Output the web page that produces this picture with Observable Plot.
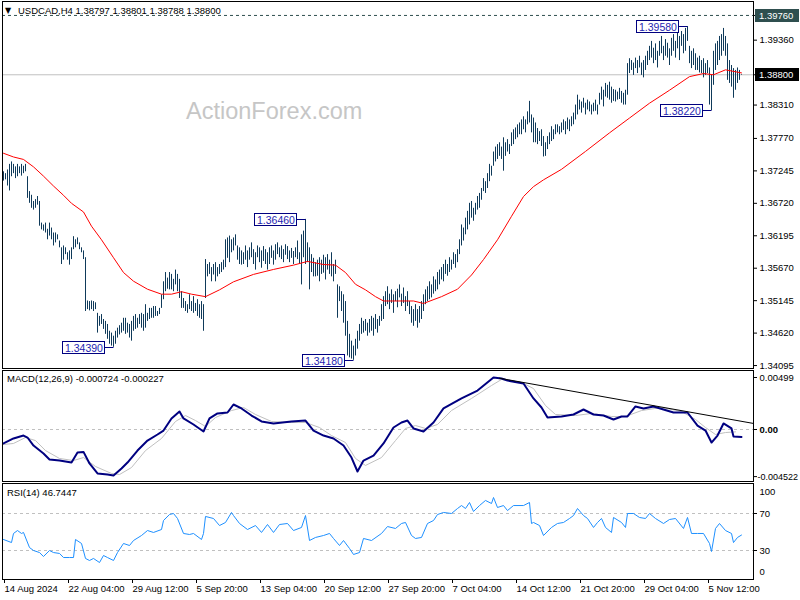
<!DOCTYPE html>
<html><head><meta charset="utf-8">
<script src="https://cdn.jsdelivr.net/npm/d3@7"></script>
<script src="https://cdn.jsdelivr.net/npm/@observablehq/plot@0.6"></script>
<style>
body{margin:0;background:#fff;}
#chart{position:relative;width:800px;height:600px;background:#fff;overflow:hidden;}
#chart > div{position:absolute;left:0;}
</style></head><body><div id="chart"></div>
<script>
// ---------- DATA ----------
const barHigh = [
1.3723,1.3720,1.3726,1.3735,1.3739,1.3735,1.3731,1.3735,1.3731,1.3735,1.3732,1.3735,
1.3715,1.3691,1.3685,1.3675,1.3678,1.3683,1.3675,
1.3640,1.3637,1.3640,1.3630,1.3640,1.3632,1.3624,
1.3624,1.3621,1.3611,1.3600,1.3603,1.3600,1.3592,1.3595,1.3600,
1.3618,1.3613,1.3616,1.3608,1.3600,1.3595,
1.3584,
1.3514,1.3513,1.3514,1.3513,1.3511,
1.3494,1.3489,1.3492,1.3484,1.3481,1.3476,1.3465,
1.3462,1.3457,1.3465,
1.3470,1.3474,1.3478,1.3486,1.3486,1.3478,1.3476,1.3481,1.3489,1.3492,1.3486,1.3492,1.3494,1.3492,1.3508,1.3494,1.3502,1.3502,1.3505,1.3505,1.3497,1.3502,1.3524,
1.3545,1.3560,1.3551,1.3560,1.3557,1.3549,1.3564,1.3557,1.3549,1.3529,1.3518,1.3513,1.3508,1.3524,1.3513,1.3521,1.3510,1.3516,1.3508,1.3513,1.3508,
1.3581,1.3573,1.3576,1.3568,1.3573,1.3576,1.3568,1.3573,1.3576,1.3580,1.3613,1.3616,
1.3619,1.3613,1.3616,1.3621,1.3603,1.3600,1.3595,
1.3592,1.3603,1.3595,1.3600,1.3608,1.3597,1.3592,1.3603,1.3600,1.3595,1.3602,1.3597,1.3592,1.3600,1.3603,1.3595,1.3605,1.3608,
1.3600,1.3603,1.3597,1.3605,1.3602,1.3595,1.3599,1.3594,1.3600,1.3611,1.3592,1.3621,
1.3627,1.3646,1.3608,1.3600,
1.3589,1.3583,1.3576,1.3580,1.3584,1.3580,1.3588,1.3584,1.3589,1.3580,1.3592,1.3573,1.3580,
1.3540,1.3537,1.3529,1.3524,1.3513,1.3481,
1.3460,1.3449,1.3441,1.3452,1.3465,
1.3476,1.3486,1.3481,1.3484,1.3478,1.3484,1.3489,1.3486,1.3492,1.3484,1.3489,1.3508,1.3521,
1.3529,1.3537,1.3525,1.3532,1.3524,1.3529,1.3533,1.3540,1.3525,1.3535,1.3521,1.3529,
1.3513,1.3505,1.3500,1.3508,1.3500,1.3505,1.3513,
1.3524,1.3532,1.3537,1.3545,1.3540,1.3553,1.3548,1.3560,
1.3564,1.3568,1.3573,1.3580,1.3573,1.3584,1.3580,1.3592,1.3589,1.3597,
1.3613,1.3637,1.3632,1.3648,1.3659,1.3672,
1.3675,1.3664,1.3672,1.3683,1.3688,
1.3696,1.3712,1.3707,1.3720,1.3735,
1.3732,1.3755,1.3763,1.3767,1.3770,1.3763,1.3778,1.3770,1.3775,1.3767,
1.3786,1.3791,1.3794,1.3799,1.3802,1.3807,1.3812,1.3807,1.3820,1.3837,
1.3815,1.3810,1.3802,1.3793,1.3788,1.3791,1.3780,1.3770,1.3780,
1.3786,1.3796,1.3791,1.3799,1.3799,1.3796,1.3802,1.3807,1.3804,1.3810,1.3807,1.3812,1.3818,
1.3831,1.3847,1.3839,1.3836,1.3842,1.3834,1.3839,1.3836,1.3831,1.3834,1.3839,1.3831,
1.3850,1.3860,1.3855,1.3866,1.3863,1.3868,1.3860,1.3856,
1.3855,1.3852,1.3858,1.3853,1.3850,1.3855,
1.3898,1.3906,1.3903,1.3899,1.3907,1.3903,1.3910,1.3899,1.3903,1.3910,
1.3918,1.3926,1.3934,1.3923,1.3930,1.3918,1.3934,1.3942,1.3926,1.3937,1.3931,1.3922,1.3939,
1.3945,1.3934,1.3947,1.3942,1.3950,1.3945,1.3955,1.3958,
1.3926,1.3918,1.3922,1.3914,1.3907,1.3910,1.3903,1.3906,1.3898,1.3903,1.3891,1.3879,
1.3918,1.3930,1.3934,1.3942,1.3945,1.3955,1.3942,
1.3930,1.3903,1.3895,1.3890,1.3887,1.3891,1.3887,1.3880];
const barLow = [
1.3708,1.3710,1.3700,1.3692,1.3715,1.3720,1.3712,1.3715,1.3720,1.3716,1.3720,1.3723,
1.3680,1.3672,1.3664,1.3661,1.3664,1.3669,1.3635,
1.3629,1.3627,1.3624,1.3613,1.3619,1.3613,1.3603,
1.3608,1.3613,1.3600,1.3573,1.3580,1.3589,1.3580,1.3572,1.3581,
1.3597,1.3600,1.3605,1.3597,1.3592,1.3581,
1.3497,
1.3500,1.3498,1.3500,1.3497,1.3500,
1.3462,1.3473,1.3476,1.3468,1.3460,1.3452,1.3444,
1.3441,1.3439,1.3444,
1.3454,1.3459,1.3462,1.3465,1.3460,1.3462,1.3454,1.3449,1.3465,1.3468,1.3470,1.3476,1.3470,1.3465,1.3470,1.3481,1.3484,1.3486,1.3486,1.3489,1.3489,1.3492,1.3502,
1.3516,1.3529,1.3533,1.3532,1.3532,1.3529,1.3540,1.3529,1.3518,1.3502,1.3502,1.3497,1.3494,1.3500,1.3497,1.3494,1.3497,1.3489,1.3486,1.3484,1.3465,
1.3518,1.3553,1.3557,1.3545,1.3556,1.3545,1.3553,1.3557,1.3560,1.3564,1.3568,1.3583,
1.3576,1.3592,1.3595,1.3603,1.3580,1.3573,1.3572,
1.3573,1.3580,1.3568,1.3580,1.3584,1.3573,1.3564,1.3584,1.3576,1.3567,1.3578,1.3573,1.3564,1.3573,1.3583,1.3572,1.3580,1.3589,
1.3584,1.3581,1.3576,1.3588,1.3581,1.3576,1.3583,1.3573,1.3584,1.3581,1.3573,1.3540,
1.3584,1.3573,1.3576,1.3532,
1.3560,1.3553,1.3553,1.3554,1.3545,1.3557,1.3559,1.3548,1.3564,1.3557,1.3553,1.3545,1.3557,
1.3486,1.3513,1.3497,1.3478,1.3457,1.3425,
1.3422,1.3420,1.3418,1.3425,1.3436,
1.3449,1.3460,1.3462,1.3465,1.3457,1.3462,1.3465,1.3457,1.3468,1.3462,1.3473,1.3481,1.3484,
1.3505,1.3508,1.3500,1.3510,1.3494,1.3513,1.3503,1.3519,1.3505,1.3510,1.3497,1.3505,
1.3492,1.3478,1.3473,1.3481,1.3470,1.3478,1.3484,
1.3497,1.3508,1.3513,1.3516,1.3519,1.3525,1.3529,1.3532,
1.3540,1.3548,1.3545,1.3557,1.3554,1.3560,1.3564,1.3573,1.3567,1.3576,
1.3589,1.3603,1.3611,1.3621,1.3629,1.3637,
1.3648,1.3643,1.3653,1.3661,1.3664,
1.3677,1.3691,1.3688,1.3696,1.3707,
1.3716,1.3732,1.3739,1.3743,1.3748,1.3743,1.3724,1.3748,1.3755,1.3751,
1.3764,1.3767,1.3775,1.3778,1.3783,1.3783,1.3791,1.3786,1.3799,1.3802,
1.3786,1.3770,1.3770,1.3767,1.3772,1.3764,1.3747,1.3748,1.3759,
1.3767,1.3772,1.3775,1.3783,1.3786,1.3783,1.3786,1.3790,1.3783,1.3791,1.3788,1.3796,1.3799,
1.3807,1.3815,1.3823,1.3818,1.3826,1.3815,1.3823,1.3820,1.3815,1.3820,1.3821,1.3815,
1.3831,1.3839,1.3828,1.3844,1.3842,1.3839,1.3834,1.3837,
1.3836,1.3839,1.3840,1.3834,1.3831,1.3831,
1.3847,1.3882,1.3887,1.3879,1.3890,1.3882,1.3891,1.3879,1.3875,1.3887,
1.3895,1.3903,1.3907,1.3898,1.3903,1.3891,1.3910,1.3914,1.3903,1.3910,1.3907,1.3895,1.3910,
1.3918,1.3907,1.3922,1.3903,1.3926,1.3914,1.3918,1.3934,
1.3898,1.3890,1.3895,1.3887,1.3887,1.3883,1.3882,1.3875,1.3879,1.3882,1.3831,1.3822,
1.3863,1.3887,1.3895,1.3903,1.3910,1.3918,1.3910,
1.3871,1.3866,1.3860,1.3842,1.3855,1.3866,1.3871,1.3879];

const maIdx = [0,5,10,15,20,25,30,34,40,44,49,55,60,65,72,79,84,89,94,101,108,115,125,135,145,152,160,166,171,176,181,186,190,200,205,210,219,227,234,240,247,254,260,265,270,279,291,303,313,323,333,343,350,355,361,369];
const maVal = [1.3753,1.3747,1.3743,1.3731,1.3716,1.3700,1.3685,1.3672,1.3658,1.3635,1.3613,1.3584,1.3560,1.3546,1.3533,1.3525,1.3525,1.3529,1.3525,1.3521,1.3532,1.3545,1.3557,1.3565,1.3572,1.3578,1.3573,1.3572,1.3560,1.3541,1.3532,1.3521,1.3514,1.3514,1.3514,1.3510,1.3521,1.3533,1.3556,1.3581,1.3613,1.3651,1.3683,1.3699,1.3710,1.3727,1.3756,1.3786,1.3810,1.3834,1.3855,1.3877,1.3882,1.3880,1.3888,1.3883];

const macdIdx = [0,5,10,12,15,20,23,28,34,37,40,43,47,52,55,59,62,67,72,77,80,84,88,90,95,100,103,107,112,115,119,124,129,135,144,151,155,160,165,170,174,177,180,185,190,195,199,202,205,210,215,220,229,237,245,249,252,260,265,269,272,279,285,290,295,300,305,309,312,316,320,325,330,335,342,347,351,354,357,360,364,365,369];
const macdVal = [-0.00134,-0.00086,-0.00058,-0.00077,-0.00154,-0.00230,-0.00288,-0.00298,-0.00317,-0.00221,
-0.00215,-0.00326,-0.00422,-0.00432,-0.00441,-0.00374,-0.00317,-0.00202,-0.00106,-0.00048,
-0.00010,0.00106,0.00173,0.00106,0.00048,-0.00019,0.00106,0.00154,0.00163,0.00240,
0.00202,0.00134,0.00077,0.00058,0.00077,0.00086,-0.00010,-0.00058,-0.00086,-0.00154,
-0.00269,-0.00403,-0.00298,-0.00250,-0.00134,0.00019,0.00067,0.00086,0.00010,-0.00019,
0.00067,0.00202,0.00298,0.00374,0.00499,0.00489,0.00470,0.00441,0.00298,0.00211,
0.00115,0.00125,0.00144,0.00192,0.00144,0.00134,0.00096,0.00125,0.00125,0.00221,
0.00202,0.00221,0.00192,0.00163,0.00163,0.00038,-0.00010,-0.00125,-0.00058,0.00058,
0.00010,-0.00067,-0.000724];

const sigIdx = [0,5,11,16,21,28,35,40,46,54,58,64,71,79,86,91,96,101,106,114,120,126,134,144,151,158,164,171,176,181,189,196,201,206,211,217,224,234,244,249,259,265,271,276,286,294,304,311,319,329,339,346,351,356,361,366];
const sigVal = [-0.00144,-0.00134,-0.00077,-0.00106,-0.00202,-0.00278,-0.00298,-0.00269,-0.00355,-0.00422,
-0.00432,-0.00365,-0.00202,-0.00086,0.00077,0.00134,0.00086,0.00029,0.00115,0.00182,
0.00211,0.00144,0.00077,0.00067,0.00067,0.00019,-0.00058,-0.00125,-0.00278,-0.00345,
-0.00269,-0.00106,0.00010,0.00038,0.00010,0.00048,0.00182,0.00298,0.00422,0.00480,
0.00451,0.00393,0.00230,0.00144,0.00134,0.00154,0.00125,0.00125,0.00182,0.00211,
0.00173,0.00096,0.00019,-0.00048,-0.00029,-0.000227];

const trendIdx = [248, 375];
const trendVal = [0.00492, 0.00058];

const rsiIdx = [0,4,5,7,9,10,13,15,18,20,23,25,28,30,33,35,36,39,41,43,45,48,50,52,55,57,60,63,65,69,72,75,79,80,83,85,87,90,93,95,99,100,101,105,108,111,114,115,118,122,126,129,132,135,138,142,145,149,151,153,156,160,163,165,168,170,173,175,178,180,184,189,192,196,199,201,204,206,209,212,215,217,220,224,227,229,231,233,235,238,241,244,245,247,250,252,255,260,263,264,265,268,270,274,277,280,283,285,287,290,292,295,297,299,301,304,305,309,311,312,315,318,321,323,326,330,333,336,340,342,344,347,350,353,354,356,358,361,364,365,367,369];
const rsiVal = [41.9,38.6,48.4,51.6,48.4,49.5,33.2,30,27.8,23.5,
30,27.8,26.8,22.4,22.4,22.4,41.9,37.6,21.4,19.2,
21.4,17,24.6,22.4,19.2,27.8,37.6,35.4,40.8,46.2,
51.6,49.5,52.7,62.4,68.9,70,64.6,48.4,47.3,48.4,
41.9,48.4,66.8,64.6,57,60.3,71.1,67.8,59.2,52.7,
57,49.5,58.1,49.5,58.1,59.2,51.6,54.9,67.8,40.8,
44.1,46.2,48.4,43,35.4,40.8,32.2,25.7,27.8,43,
40.8,48.4,55.9,53.8,59.2,60.3,46.2,43,44.1,59.2,
62.4,68.9,71.1,70,75.4,78.6,75.4,81.9,72.2,78.6,
84.1,80.8,87.3,76.5,78.6,73.2,78.6,78.6,81.9,59.2,
60.3,57,46.2,54.9,59.2,60.3,64.6,67.8,75.4,67.8,
64.6,54.9,60.3,64.6,54.9,49.5,65.7,60.3,54.9,70,
70,65.7,64.6,70,64.6,59.2,63.5,64.6,53.8,65.7,
48.4,48.4,48.4,37.6,28.9,53.8,59.2,51.6,48.4,38.6,
44.1,46.7];

const priceTicks = [1.39360,1.38310,1.37770,1.37245,1.36720,1.36195,1.35670,1.35145,1.34620,1.34095];
const lastPrice = 1.38800;
const topLevel = 1.39760;
const annIdx = [55, 151, 175, 342, 354];
const annVal = [1.34390, 1.36460, 1.34180, 1.39580, 1.38220];
const xTickIdx = [0,32,64,96,128,160,192,224,256,288,320,352];
const xTickLabels = ["14 Aug 2024","22 Aug 04:00","29 Aug 12:00","5 Sep 20:00","13 Sep 04:00","20 Sep 12:00","27 Sep 20:00","7 Oct 04:00","14 Oct 12:00","21 Oct 20:00","29 Oct 04:00","5 Nov 12:00"];
const titleText = "USDCAD,H4 1.38797 1.38801 1.38788 1.38800";
const macdTitle = "MACD(12,26,9) -0.000724 -0.000227";
const rsiTitle = "RSI(14) 46.7447";

// ---------- BUILD ----------
const bars = barHigh.map((h, i) => ({i, high: h, low: barLow[i]}));
const ma = maIdx.map((i, k) => ({i, v: maVal[k]}));
const macd = macdIdx.map((i, k) => ({i, v: macdVal[k]}));
const sig = sigIdx.map((i, k) => ({i, v: sigVal[k]}));
const trend = trendIdx.map((i, k) => ({i, v: trendVal[k]}));
const rsi = rsiIdx.map((i, k) => ({i, v: rsiVal[k]}));

const FONT = '"Liberation Sans", Arial, sans-serif';
const style = {fontFamily: FONT, fontSize: "9.5px", color: "#000", background: "none", overflow: "visible"};
const xDomain = [-0.5, 375];
const BAR = "#0f3a5a";
const chart = document.getElementById("chart");
function place(svg, top) {
  const d = document.createElement("div");
  d.style.top = top + "px";
  d.appendChild(svg);
  chart.appendChild(d);
}
function txt(sel, x, y, s, size, fill) {
  return sel.append("text").attr("x", x).attr("y", y).attr("text-anchor", "start")
    .attr("font-size", size).attr("fill", fill || "#000").text(s);
}

// Main price panel
const main = Plot.plot({
  width: 800, height: 369, marginTop: 1, marginBottom: 1, marginLeft: 2, marginRight: 47,
  style,
  x: {domain: xDomain, axis: null},
  y: {domain: [1.340473, 1.399857], axis: null},
  marks: [
    Plot.ruleY([lastPrice], {stroke: "#c0c0c0"}),
    Plot.ruleY([topLevel], {stroke: "#2f4f4f", strokeDasharray: "3,3"}),
    Plot.ruleX(bars, {x: "i", y1: "low", y2: "high", stroke: BAR}),
    Plot.line(ma, {x: "i", y: "v", stroke: "#ff0000", strokeWidth: 1}),
    Plot.axisY(priceTicks, {anchor: "right", tickSize: 3, tickPadding: 3, tickFormat: d => d.toFixed(5), label: null}),
    Plot.axisY([topLevel, lastPrice], {anchor: "right", tickSize: 3, tickFormat: () => "", label: null}),
    Plot.frame({stroke: "#000"})
  ]
});
place(main, 0);

const ms = d3.select(main);
const xs = main.scale("x"), ys = main.scale("y");
ms.insert("text", "g").attr("x", 186).attr("y", 119).attr("text-anchor", "start").attr("font-size", 23.5)
  .attr("fill", "#c6c6c6").attr("font-family", FONT).text("ActionForex.com");
txt(ms, 5, 13, "▼", 8).attr("font-family", "DejaVu Sans");
txt(ms, 18, 13.5, titleText, 9.5);

// right-side value boxes
[[topLevel, "#2f4f4f"], [lastPrice, "#000"]].forEach(([v, fill]) => {
  const y = Math.round(ys.apply(v)) + 0.5;
  ms.append("rect").attr("x", 755).attr("y", y - 6.5).attr("width", 44).attr("height", 13).attr("fill", fill);
  txt(ms, 759, y + 3.5, v.toFixed(5), 9.5, "#fff");
});

// high / low annotations
annIdx.forEach((i, k) => {
  const v = annVal[k];
  const bx = Math.round(xs.apply(i)) + 0.5;
  const by = Math.round(ys.apply(v)) + 0.5;
  const g = ms.append("g");
  const t = txt(g, 0, 0, v.toFixed(5), 10.5, "#2525b0");
  const w = t.node().getComputedTextLength();
  const right = bx - 9;
  const left = Math.round(right - w - 5) + 0.5;
  g.insert("rect", "text").attr("x", left).attr("y", by - 6).attr("width", right - left).attr("height", 12)
    .attr("fill", "#fff").attr("stroke", "#000080");
  t.attr("x", left + 2.5).attr("y", by + 4);
  g.append("path").attr("d", `M${right},${by}H${bx}`).attr("stroke", "#000080").attr("fill", "none");
});

// MACD panel
const macdPlot = Plot.plot({
  width: 800, height: 113, marginTop: 1, marginBottom: 1, marginLeft: 2, marginRight: 47,
  style,
  x: {domain: xDomain, axis: null},
  y: {domain: [-0.00499, 0.005662], axis: null},
  marks: [
    Plot.ruleY([0], {stroke: "#c0c0c0", strokeDasharray: "3,3"}),
    Plot.line(sig, {x: "i", y: "v", stroke: "#c0c0c0", strokeWidth: 1}),
    Plot.line(macd, {x: "i", y: "v", stroke: "#000080", strokeWidth: 2}),
    Plot.line(trend, {x: "i", y: "v", stroke: "#000", strokeWidth: 1}),
    Plot.axisY([0.00499], {anchor: "right", tickSize: 3, tickPadding: 3,
      tickFormat: () => "0.00499", label: null}),
    Plot.axisY([-0.004522], {anchor: "right", tickSize: 3, tickPadding: 1, fontSize: 9,
      tickFormat: () => "-0.004522", label: null}),
    Plot.axisY([0], {anchor: "right", tickSize: 3, tickPadding: 3, tickFormat: () => "0.00", fontWeight: "bold", label: null}),
    Plot.frame({stroke: "#000"})
  ]
});
place(macdPlot, 369);
txt(d3.select(macdPlot), 7, 12.5, macdTitle, 9.5);

// RSI panel
const rsiPlot = Plot.plot({
  width: 800, height: 118, marginTop: 1, marginBottom: 21, marginLeft: 2, marginRight: 47,
  style,
  x: {domain: xDomain, axis: null},
  y: {domain: [-1.35, 102.43], axis: null},
  marks: [
    Plot.ruleY([30, 70], {stroke: "#c0c0c0", strokeDasharray: "3,3"}),
    Plot.line(rsi, {x: "i", y: "v", stroke: "#1e90ff", strokeWidth: 1}),
    Plot.axisY([70, 30], {anchor: "right", tickSize: 3, tickPadding: 3, label: null}),
    Plot.axisY([100], {anchor: "right", tickSize: 0, tickPadding: 6, dy: 6, label: null}),
    Plot.axisY([0], {anchor: "right", tickSize: 0, tickPadding: 6, dy: -6, label: null}),
    Plot.axisX(xTickIdx, {anchor: "bottom", tickSize: 4, tickPadding: 2, textAnchor: "start", dx: 1,
      tickFormat: d => xTickLabels[xTickIdx.indexOf(d)], label: null}),
    Plot.frame({stroke: "#000"})
  ]
});
place(rsiPlot, 482);
txt(d3.select(rsiPlot), 7, 13.5, rsiTitle, 9.5);
</script>
</body></html>
